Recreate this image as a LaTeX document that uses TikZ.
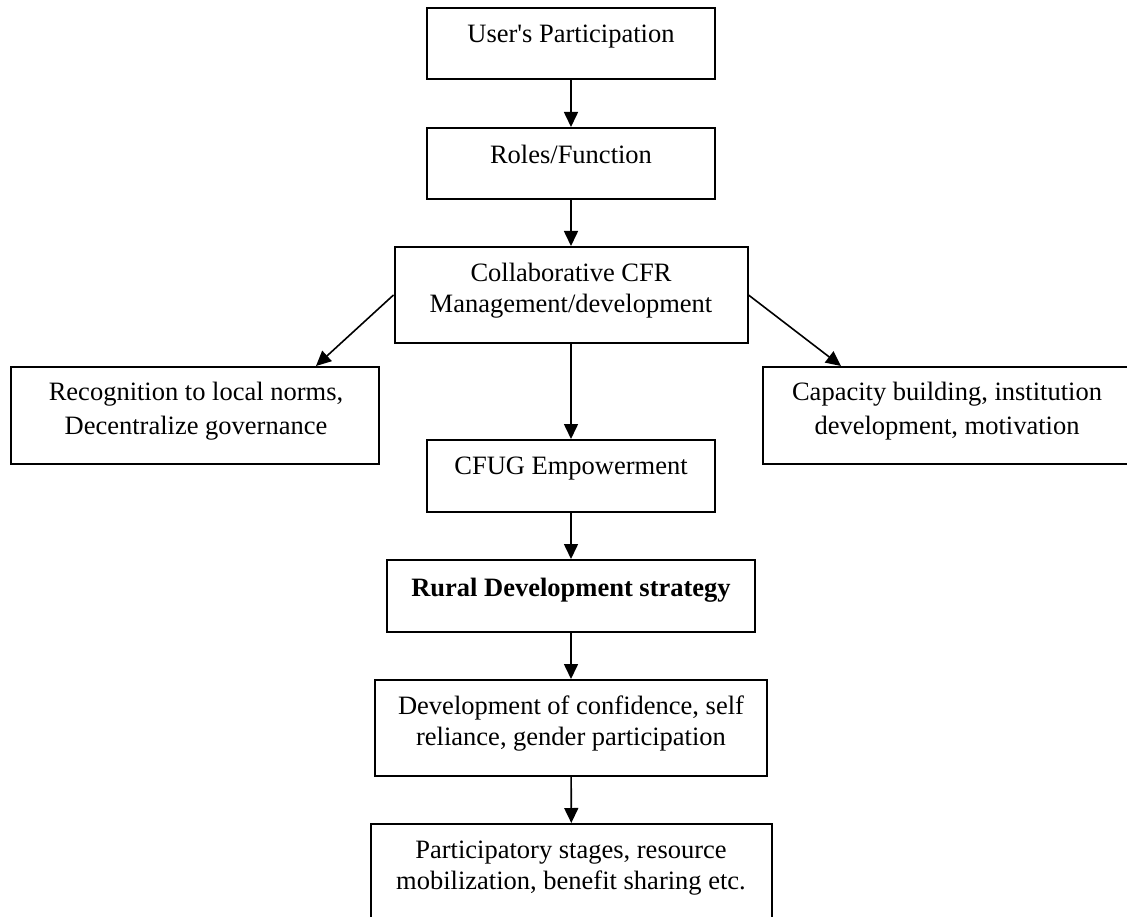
\documentclass[tikz,border=0pt]{standalone}
\usepackage{fontspec}
\setmainfont{Liberation Serif}[Ligatures=TeXOff]
\usetikzlibrary{arrows.meta}
\begin{document}
\begin{tikzpicture}[x=1pt,y=-1pt,
  box/.style={draw=black, line width=2pt, inner sep=0pt},
  boxtext/.style={align=center, inner sep=0pt, font=\fontsize{26.5pt}{31pt}\selectfont},
  arr/.style={-{Triangle[length=15pt,width=14pt]}, line width=1.6pt}
]
\useasboundingbox (0,0) rectangle (1127,917);
\clip (0,0) rectangle (1127,917);

% frames
\node[box, minimum width=288pt, minimum height=71pt] (user)   at (571,43.5)  {};
\node[box, minimum width=288pt, minimum height=71pt] (roles)  at (571,163.5) {};
\node[box, minimum width=353pt, minimum height=96pt] (collab) at (571,295)   {};
\node[box, minimum width=368pt, minimum height=97pt] (rec)    at (195,415.5) {};
\node[box, minimum width=368pt, minimum height=97pt] (cap)    at (947,415.5) {};
\node[box, minimum width=288pt, minimum height=72pt] (cfug)   at (571,476)   {};
\node[box, minimum width=368pt, minimum height=72pt] (rural)  at (571,596)   {};
\node[box, minimum width=392pt, minimum height=96pt] (conf)   at (571,728)   {};
\node[box, minimum width=401pt, minimum height=120pt] (part)  at (571.5,884) {};

% texts
\node[boxtext] (userT)   at (571,37)    {User's Participation};
\node[boxtext] (rolesT)  at (571,154)   {Roles/Function};
\node[boxtext] (collabT) at (571,291)   {Collaborative CFR\\Management/development};
\node[boxtext, font=\fontsize{26.5pt}{34pt}\selectfont] (recT) at (196,411) {Recognition to local norms,\\Decentralize governance};
\node[boxtext, font=\fontsize{26.5pt}{34pt}\selectfont] (capT) at (947,411) {Capacity building, institution\\development, motivation};
\node[boxtext] (cfugT)   at (571,468.5) {CFUG Empowerment};
\node[boxtext] (ruralT)  at (571,590.5) {\textbf{Rural Development strategy}};
\node[boxtext] (confT)   at (571,724)   {Development of confidence, self\\reliance, gender participation};
\node[boxtext] (partT)   at (571,868)   {Participatory stages, resource\\mobilization, benefit sharing etc.};

% connectors
\draw[arr] (user) -- (roles);
\draw[arr] (roles) -- (collab);
\draw[arr] (collab) -- (cfug);
\draw[arr] (collab.west) -- ([xshift=-64pt]rec.north east);
\draw[arr] (collab.east) -- ([xshift=79pt]cap.north west);
\draw[arr] (cfug) -- (rural);
\draw[arr] (rural) -- (conf);
\draw[arr] (conf) -- (part);
\end{tikzpicture}
\end{document}
